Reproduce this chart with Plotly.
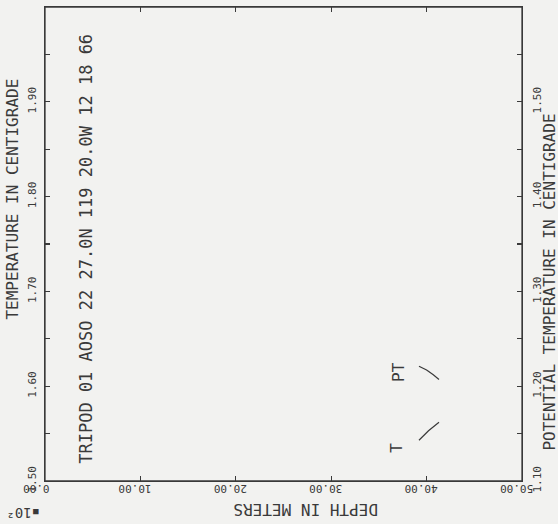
import plotly.graph_objects as go

# Data (depth in units of 10^2 m)
t_depth = [39.2, 40.2, 41.3]
t_temp = [1.543, 1.553, 1.562]
pt_depth = [39.2, 40.0, 40.7, 41.3]
pt_temp = [1.221, 1.217, 1.212, 1.207]

depth_ticks = [0, 10, 20, 30, 40, 50]
depth_labels = ["0.00", "10.00", "20.00", "30.00", "40.00", "50.00"]
t_ticks = [1.5, 1.6, 1.7, 1.8, 1.9]
t_labels = ["1.50", "1.60", "1.70", "1.80", "1.90"]
pt_ticks = [1.1, 1.2, 1.3, 1.4, 1.5]
pt_labels = ["1.10", "1.20", "1.30", "1.40", "1.50"]

title_text = "TRIPOD 01 AOSO 22 27.0N 119 20.0W 12 18 66"

INK = "#3a3a3a"
BG = "#f2f2f0"
MONO = "DejaVu Sans Mono"

fig = go.Figure()
fig.add_trace(go.Scatter(x=t_depth, y=t_temp, mode="lines", line=dict(color=INK, width=1.2),
                         showlegend=False, hoverinfo="skip", yaxis="y"))
fig.add_trace(go.Scatter(x=pt_depth, y=pt_temp, mode="lines", line=dict(color=INK, width=1.2),
                         showlegend=False, hoverinfo="skip", yaxis="y2"))

axis_common = dict(showgrid=False, zeroline=False, showline=True, linecolor=INK, linewidth=1.3,
                   ticks="inside", ticklen=5, tickwidth=1.3, tickcolor=INK, automargin=False,
                   tickfont=dict(family=MONO, size=11, color=INK))

fig.update_layout(
    width=558, height=524,
    margin=dict(l=45, r=36, t=7, b=43),
    paper_bgcolor=BG, plot_bgcolor=BG,
    xaxis=dict(range=[0, 50], tickvals=depth_ticks, ticktext=depth_labels, tickangle=180,
               ticklabelshift=-22, mirror="ticks", **axis_common),
    yaxis=dict(range=[1.5, 2.0], tickvals=t_ticks, ticktext=t_labels, tickangle=-90,
               ticklabelstandoff=3,
               minor=dict(dtick=0.05, ticks="inside", ticklen=5, tickwidth=1.3, tickcolor=INK),
               **axis_common),
    yaxis2=dict(range=[1.1, 1.6], tickvals=pt_ticks, ticktext=pt_labels, tickangle=-90,
                overlaying="y", side="right", ticklabelstandoff=4,
                minor=dict(dtick=0.05, ticks="inside", ticklen=5, tickwidth=1.3, tickcolor=INK),
                **axis_common),
)
# frame
fig.add_shape(type="rect", xref="paper", yref="paper", x0=0, y0=0, x1=1, y1=1,
              line=dict(color=INK, width=1.3), layer="above")

font_big = dict(family=MONO, size=16, color=INK)
annos = [
    dict(text=title_text, xref="paper", yref="paper", x=0.086, y=0.49, textangle=-90,
         font=dict(family=MONO, size=17, color=INK)),
    dict(text="TEMPERATURE IN CENTIGRADE", xref="paper", yref="paper", x=-0.068, y=0.595,
         textangle=-90, font=font_big),
    dict(text="POTENTIAL TEMPERATURE IN CENTIGRADE", xref="paper", yref="paper", x=1.058, y=0.42,
         textangle=-90, font=font_big),
    dict(text="DEPTH IN METERS", xref="paper", yref="paper", x=0.545, y=-0.06,
         textangle=180, font=font_big),
    dict(text="\u25aa10\u00b2", xref="paper", yref="paper", x=-0.045, y=-0.067,
         textangle=180, font=dict(family=MONO, size=14, color=INK)),
    dict(text="T", xref="x", yref="y", x=36.9, y=1.535, textangle=-90, font=font_big),
    dict(text="PT", xref="x", yref="y2", x=37.1, y=1.215, textangle=-90, font=font_big),
]
for a in annos:
    a.update(showarrow=False, xanchor="center", yanchor="middle")
    fig.add_annotation(**a)

fig.write_html(
    "out.html",
    config={"displayModeBar": False, "staticPlot": True},
    post_script="document.body.style.margin='0';document.body.style.padding='0';"
                "document.body.style.background='" + BG + "';"
                "document.documentElement.style.overflow='hidden';",
)
